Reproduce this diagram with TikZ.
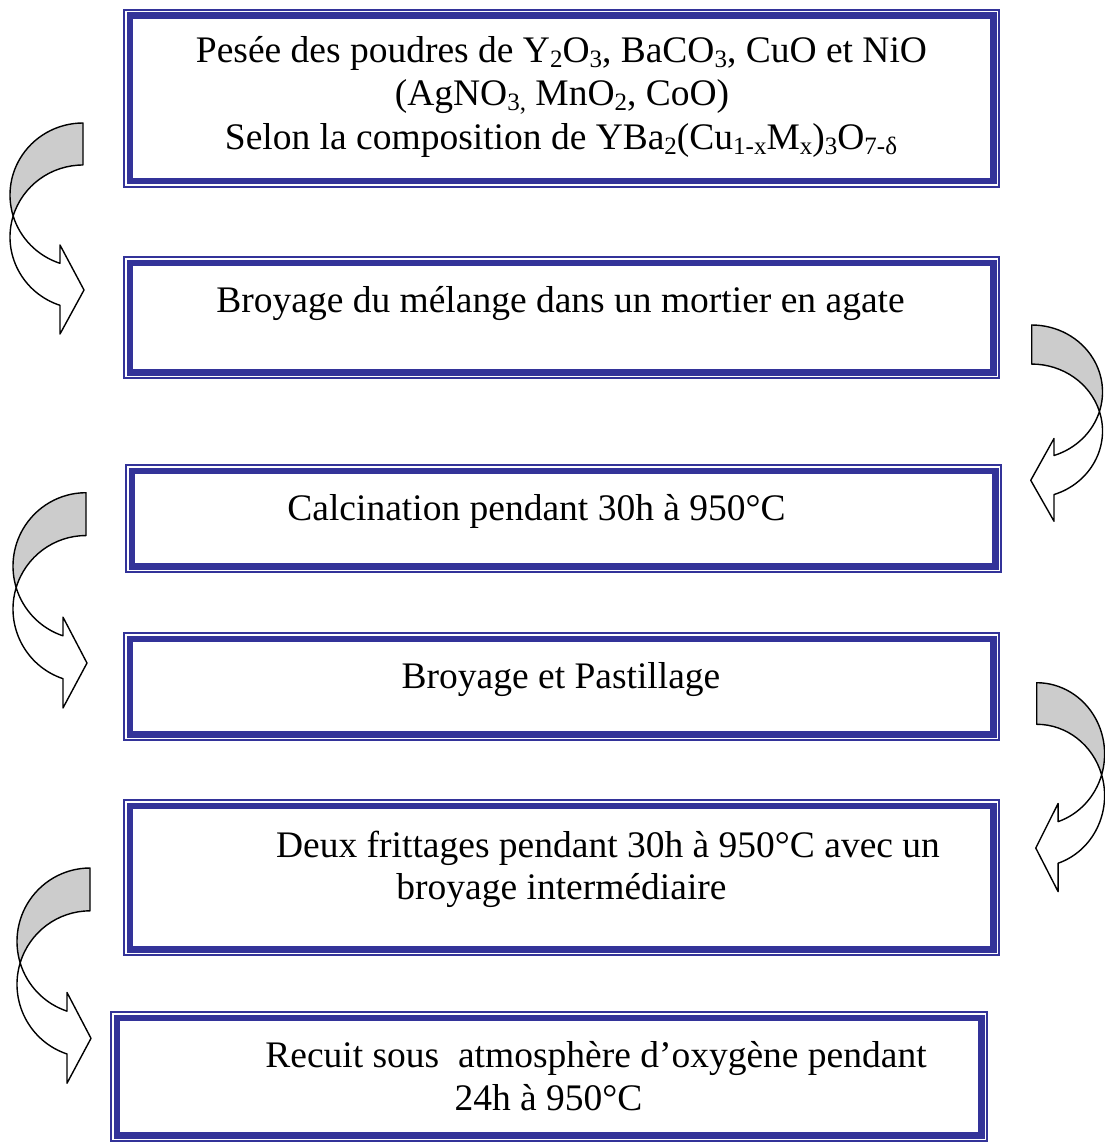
\documentclass[tikz,border=0pt]{standalone}
\usepackage{fontspec}
\setmainfont{Liberation Serif}
\definecolor{boxblue}{HTML}{333399}
\definecolor{arrowgrey}{HTML}{CCCCCC}
\tikzset{
  x=1pt, y=1pt,
  frame/.style={draw=boxblue, line width=1.5pt, inner sep=0pt, rectangle},
  thickframe/.style={draw=boxblue, line width=6.5pt},
  lbl/.style={anchor=base, inner sep=0pt, font=\fontsize{37.5pt}{43pt}\selectfont},
  backface/.style={draw=black, line width=1.4pt, fill=arrowgrey, line join=round},
  frontface/.style={draw=black, line width=1.4pt, fill=white, line join=round},
}
\newcommand\sub[1]{\raisebox{-5pt}{\fontsize{25pt}{25pt}\selectfont #1}}
\newcommand\innerframe[1]{%
  \draw[thickframe] ([shift={(6.5,-6.5)}]#1.north west) rectangle ([shift={(-6.5,6.5)}]#1.south east);}
% curved block arrow, local frame: anchor at top end of the band
\newcommand\bentarrow[4]{%
  \begin{scope}[shift={(#1,#2)}, xscale=#3, yscale=#4]
    \draw[backface] (0,0) arc[start angle=90, end angle=196.96, x radius=73, y radius=72]
      arc[start angle=163.04, end angle=90, x radius=73, y radius=72] -- cycle;
    \draw[frontface] (-69.83,-93) arc[start angle=196.96, end angle=251.63, x radius=73, y radius=72]
      -- (-23,-122) -- (1,-167) -- (-23,-211) -- (-23,-182.33)
      arc[start angle=251.63, end angle=163.04, x radius=73, y radius=72] -- cycle;
  \end{scope}}
\begin{document}
\begin{tikzpicture}
\fill[white] (0,0) rectangle (1104,-1142);
\useasboundingbox (0,0) rectangle (1104,-1142);

% boxes
\node[frame, minimum width=875pt, minimum height=177pt] (b1) at (561.5,-98.5) {};
\node[frame, minimum width=875pt, minimum height=121pt] (b2) at (561.5,-317.5) {};
\node[frame, minimum width=875pt, minimum height=107pt] (b3) at (563.5,-518.5) {};
\node[frame, minimum width=875pt, minimum height=107pt] (b4) at (561.5,-686.5) {};
\node[frame, minimum width=875pt, minimum height=155pt] (b5) at (561.5,-877.5) {};
\node[frame, minimum width=876pt, minimum height=129pt] (b6) at (549,-1076.5) {};
\innerframe{b1}\innerframe{b2}\innerframe{b3}\innerframe{b4}\innerframe{b5}\innerframe{b6}

% texts
\node[lbl] (t1a) at (561.5,-63) {Pesée des poudres de Y\sub{2}O\sub{3}, BaCO\sub{3}, CuO et NiO};
\node[lbl] (t1b) at (562,-106) {(AgNO\sub{3,} MnO\sub{2}, CoO)};
\node[lbl] (t1c) at (561,-150) {Selon la composition de YBa\sub{2}(Cu\sub{1-x}M\sub{x})\sub{3}O\sub{7-δ}};
\node[lbl] (t2) at (560.5,-312) {Broyage du mélange dans un mortier en agate};
\node[lbl] (t3) at (536.5,-520) {Calcination pendant 30h à 950°C};
\node[lbl] (t4) at (561,-688) {Broyage et Pastillage};
\node[lbl] (t5a) at (608,-857) {Deux frittages pendant 30h à 950°C avec un};
\node[lbl] (t5b) at (561.5,-899) {broyage intermédiaire};
\node[lbl] (t6a) at (596,-1067) {Recuit sous\ \ atmosphère d’oxygène pendant};
\node[lbl] (t6b) at (548.5,-1110) {24h à 950°C};

% curved arrows
\bentarrow{83}{-123}{1}{1}
\bentarrow{86}{-492.7}{1}{1.02}
\bentarrow{90}{-868}{1}{1.02}
\bentarrow{1031.7}{-325}{-0.97}{0.93}
\bentarrow{1036.7}{-682.7}{-0.93}{0.99}
\end{tikzpicture}
\end{document}
